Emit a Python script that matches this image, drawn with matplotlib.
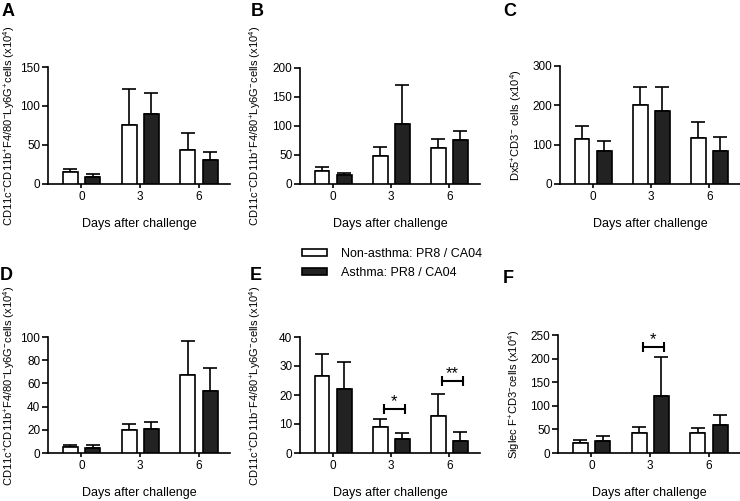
import numpy as np
import matplotlib
matplotlib.use('Agg')
import matplotlib.pyplot as plt
from matplotlib.patches import Patch

plt.rcParams['font.family'] = ['Liberation Sans', 'DejaVu Sans']
plt.rcParams['mathtext.fontset'] = 'custom'
plt.rcParams['mathtext.rm'] = 'Liberation Sans'
plt.rcParams['mathtext.it'] = 'Liberation Sans'
plt.rcParams['mathtext.default'] = 'regular'

days = ['0', '3', '6']

# mean and upper error (SEM) per panel, non-asthma (white) and asthma (black)
a_white = [15, 76, 44]
a_white_err = [4.3, 46, 22]
a_black = [9.4, 90, 31]
a_black_err = [3, 27, 9.5]

b_white = [22, 48, 62.6]
b_white_err = [8, 15.5, 15.5]
b_black = [15, 103, 76.4]
b_black_err = [4.6, 67, 15]

c_white = [114, 202, 117]
c_white_err = [33, 45, 41]
c_black = [84, 186, 85]
c_black_err = [26, 60, 34]

d_white = [4.9, 19.4, 66.9]
d_white_err = [1.7, 5.5, 29.7]
d_black = [4.6, 20.6, 53.1]
d_black_err = [2.0, 6.4, 19.8]

e_white = [26.6, 8.8, 12.8]
e_white_err = [7.6, 2.9, 7.5]
e_black = [21.9, 4.8, 4.1]
e_black_err = [9.4, 2.2, 3.0]

f_white = [20.4, 41.5, 42.3]
f_white_err = [7.1, 14.1, 9.8]
f_black = [25.4, 120.4, 59.2]
f_black_err = [9.8, 83.1, 21.8]

# significance: (group index, bracket height, label)
e_sig = [(1, 15.1, '*'), (2, 24.8, '**')]
f_sig = [(1, 224, '*')]

ylabels = [
    'CD11c$^{-}$CD11b$^{+}$F4/80$^{-}$Ly6G$^{+}$cells (x10$^{4}$)',
    'CD11c$^{-}$CD11b$^{+}$F4/80$^{+}$Ly6G$^{-}$cells (x10$^{4}$)',
    'Dx5$^{+}$CD3$^{-}$ cells (x10$^{4}$)',
    'CD11c$^{+}$CD11b$^{+}$F4/80$^{-}$Ly6G$^{-}$cells (x10$^{4}$)',
    'CD11c$^{+}$CD11b$^{-}$F4/80$^{+}$Ly6G$^{-}$cells (x10$^{4}$)',
    'Siglec F$^{+}$CD3$^{-}$cells (x10$^{4}$)',
]

W, H = 740, 501
fig = plt.figure(figsize=(W / 100, H / 100), dpi=100)

# pixel boxes: left, right, bottom, top
boxes = [(48, 230, 184, 67), (300, 480, 184, 68), (560, 740, 184, 66),
         (48, 230, 453, 337), (300, 480, 453, 337), (558, 740, 453, 335)]
yticks = [np.arange(0, 151, 50), np.arange(0, 201, 50), np.arange(0, 301, 100),
          np.arange(0, 101, 20), np.arange(0, 41, 10), np.arange(0, 251, 50)]
panels = [(a_white, a_white_err, a_black, a_black_err, []),
          (b_white, b_white_err, b_black, b_black_err, []),
          (c_white, c_white_err, c_black, c_black_err, []),
          (d_white, d_white_err, d_black, d_black_err, []),
          (e_white, e_white_err, e_black, e_black_err, e_sig),
          (f_white, f_white_err, f_black, f_black_err, f_sig)]
letters = ['A', 'B', 'C', 'D', 'E', 'F']
letter_pos = [(2, 3), (251, 3), (503, 3), (0, 267), (250, 267), (503, 270)]
label_x = [-0.17, -0.205, -0.2, -0.17, -0.205, -0.2]
label_y = [0.5, 0.5, 0.5, 0.58, 0.58, 0.5]

x = np.arange(3)
off = 0.19
bw = 0.256
lw = 1.2

for i, (box, (wv, we, bv, be, sig)) in enumerate(zip(boxes, panels)):
    l, r, b, t = box
    ax = fig.add_axes([l / W, 1 - b / H, (r - l) / W, (b - t) / H])
    z = np.zeros(3)
    ax.bar(x - off, wv, bw, color='white', edgecolor='black', linewidth=lw, zorder=3)
    ax.bar(x + off, bv, bw, color='#222222', edgecolor='black', linewidth=lw, zorder=3)
    ax.errorbar(x - off, wv, yerr=[z, we], fmt='none', ecolor='black',
                elinewidth=lw, capsize=5, capthick=lw, zorder=2)
    ax.errorbar(x + off, bv, yerr=[z, be], fmt='none', ecolor='black',
                elinewidth=lw, capsize=5, capthick=lw, zorder=2)
    for g, h, s in sig:
        ax.plot([g - 0.12, g + 0.23], [h, h], color='black', lw=1.5,
                marker='|', markersize=7, markeredgewidth=1.5, clip_on=False)
        ax.text(g + 0.055, h, s, ha='center', va='bottom', fontsize=12)
    ax.set_xlim(-0.57, 2.53)
    yt = yticks[i]
    ax.set_ylim(0, yt[-1])
    ax.set_yticks(yt)
    ax.set_xticks(x)
    ax.set_xticklabels(days)
    for s in ['top', 'right']:
        ax.spines[s].set_visible(False)
    for s in ['left', 'bottom']:
        ax.spines[s].set_linewidth(lw)
    ax.tick_params(axis='y', length=4, width=lw, pad=1.5, labelsize=8.5)
    ax.tick_params(axis='x', length=3, width=lw, pad=2, labelsize=8.5)
    ax.set_xlabel('Days after challenge', fontsize=9, labelpad=11)
    ax.set_ylabel(ylabels[i], fontsize=8)
    ax.yaxis.set_label_coords(label_x[i], label_y[i])
    lx, ly = letter_pos[i]
    fig.text(lx / W, 1 - ly / H, letters[i], fontsize=13, fontweight='bold',
             ha='left', va='top')

handles = [Patch(facecolor='white', edgecolor='black', linewidth=lw),
           Patch(facecolor='#222222', edgecolor='black', linewidth=lw)]
fig.legend(handles, ['Non-asthma: PR8 / CA04', 'Asthma: PR8 / CA04'],
           loc='upper left', bbox_to_anchor=(302 / W, 1 - 248 / H),
           frameon=False, fontsize=9, handlelength=2.0, handleheight=0.4,
           handletextpad=1.1, labelspacing=0.55, borderpad=0, borderaxespad=0)

fig.savefig('out.png', dpi=100)
